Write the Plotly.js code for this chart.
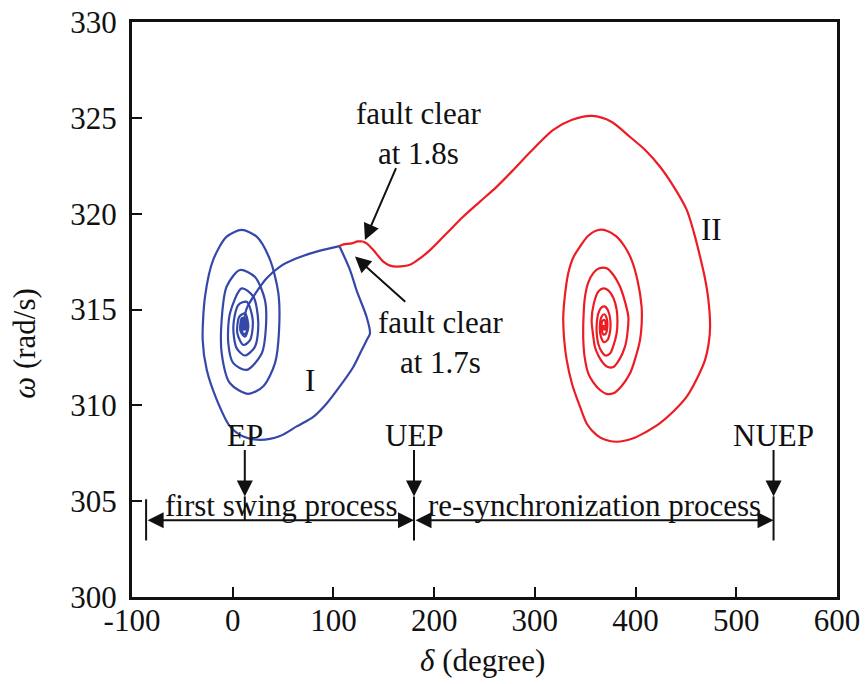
<!DOCTYPE html>
<html>
<head>
<meta charset="utf-8">
<script src="https://cdn.plot.ly/plotly-3.0.1.min.js"></script>
<style>
  html, body { margin: 0; padding: 0; background: #fff; }
  #chart { width: 865px; height: 684px; }
</style>
</head>
<body>
<div id="chart"></div>
<script>
// Rotor angle (degree) vs. speed (rad/s) phase-plane trajectories

// Fault-on trajectory from the pre-fault equilibrium to clearing at 1.7 s
const faultOnDelta = [10.5, 13.9, 23.8, 33.7, 47.0, 63.5, 86.7, 105.9];
const faultOnOmega = [314.2, 315.06, 315.93, 316.63, 317.24, 317.67, 318.07, 318.31];

// Case I: fault cleared at 1.7 s, first swing back to EP
const caseIDelta = [105.9, 116.5, 123.0, 133.0, 136.3, 133.0, 126.4, 119.7, 106.5, 93.3, 80.0, 63.5, 47.0, 27.1, 10.5,
  -2.7, -15.9, -25.8, -29.8, -27.5, -19.3, -6.0, 8.9, 23.8, 37.0, 45.3, 46.0, 42.0, 30.4, 15.5,
  -2.7, -10.9, -11.0, -6.0, 7.2, 22.1, 32.0, 33.0, 28.8, 13.9,
  0.6, -4.4, -2.7, 8.9, 20.5, 25.4, 22.1, 12.2,
  4.0, 0.6, 5.6, 13.9, 19.9, 17.2, 10.6,
  4.6, 6.6, 12.2, 15.5, 12.2, 7.9, 8.9, 12.2, 13.2, 9.9, 10.5, 11.5, 10.5,
  7.5, 9.0, 13.0, 14.0, 11.0, 8.0, 9.5, 12.5, 11.0, 9.5, 10.5];
const caseIOmega = [318.31, 317.06, 316.0, 314.6, 313.76, 313.4, 312.7, 312.0, 311.0, 310.1, 309.4, 308.9, 308.4, 308.2, 308.37,
  308.9, 310.3, 311.85, 313.4, 315.67, 317.6, 318.8, 319.15, 318.8, 317.6, 315.85, 313.9, 312.2, 311.0, 310.6,
  311.15, 312.7, 314.45, 316.2, 317.06, 316.7, 315.5, 314.1, 312.7, 311.85,
  312.2, 313.25, 314.8, 316.1, 315.67, 314.3, 313.06, 312.6,
  312.97, 314.1, 315.24, 315.4, 314.45, 313.4, 313.15,
  313.76, 314.63, 314.8, 314.1, 313.58, 313.85, 314.45, 314.45, 313.98, 314.0, 314.3, 314.15, 314.15,
  313.9, 314.55, 314.5, 313.85, 313.7, 314.1, 314.4, 314.3, 313.95, 314.0, 314.2];

// Continued fault-on path from 1.7 s to clearing at 1.8 s
const faultExtDelta = [105.9, 110.0, 118.0, 124.0, 129.0];
const faultExtOmega = [318.31, 318.4, 318.45, 318.55, 318.55];

// Case II: fault cleared at 1.8 s, pole slip and re-synchronization at NUEP side
const caseIIDelta = [129.0, 133.0, 139.6, 149.5, 156.2, 162.8, 176.0, 186.0, 195.9, 212.5, 229.0, 245.5, 262.0, 278.6, 295.2,
  318.3, 337.0, 356.8, 376.0, 394.5, 410.0, 424.3, 438.0, 450.8, 458.0, 464.0, 469.0, 472.3, 474.0, 472.5,
  469.0, 461.0, 450.8, 438.0, 424.3, 410.0, 397.8, 381.2, 370.0, 361.4, 352.0, 344.8, 337.0, 331.6, 329.0,
  328.2, 330.0, 333.2, 338.0, 344.8, 353.0, 363.0, 372.0, 381.2, 389.0, 396.1, 402.0, 406.0, 406.0, 404.4,
  400.0, 394.5, 386.0, 377.9, 371.0, 364.7, 358.0, 353.0, 349.5, 348.1, 348.3, 349.8, 353.0, 358.0, 364.0,
  371.3, 378.0, 384.5, 389.0, 392.8, 392.0, 389.5, 384.0, 377.9, 372.5, 367.9, 363.0, 359.6, 357.5, 356.4,
  358.5, 363.0, 368.0, 372.9, 378.0, 381.2, 382.0, 381.2, 378.5, 374.6, 370.0, 366.3, 363.0, 361.4, 361.5,
  363.0, 366.0, 369.7, 373.0, 375.0, 374.5, 372.0, 368.5, 365.5, 364.5, 366.0, 369.0, 371.5, 372.0, 370.5,
  368.0, 366.5, 367.0, 369.0, 370.3, 369.5, 368.0, 368.2];
const caseIIOmega = [318.55, 318.45, 318.1, 317.5, 317.29, 317.24, 317.33, 317.67, 318.1, 318.98, 319.85, 320.63, 321.4, 322.28, 323.2,
  324.37, 324.9, 325.1, 324.8, 324.0, 323.3, 322.45, 321.4, 320.2, 319.0, 317.76, 316.6, 315.5, 314.1, 313.2,
  312.37, 311.4, 310.45, 309.7, 309.07, 308.6, 308.28, 308.1, 308.2, 308.45, 309.0, 309.93, 311.1, 312.37, 313.5,
  314.63, 315.8, 316.9, 317.7, 318.28, 318.85, 319.15, 319.1, 318.8, 318.3, 317.58, 316.5, 315.15, 314.2, 313.4,
  312.5, 311.67, 311.0, 310.63, 310.6, 310.8, 311.2, 311.67, 312.5, 313.4, 314.6, 315.67, 316.4, 316.9, 317.15,
  317.15, 316.8, 316.2, 315.5, 314.63, 313.8, 313.06, 312.4, 312.0, 312.0, 312.2, 312.6, 313.06, 313.8, 314.45,
  315.3, 315.93, 316.1, 316.0, 315.6, 315.0, 314.4, 313.76, 313.2, 312.7, 312.6, 312.8, 313.2, 313.76, 314.3,
  314.8, 315.1, 315.15, 314.9, 314.4, 313.8, 313.4, 313.3, 313.6, 314.1, 314.6, 314.75, 314.5, 314.1, 313.75,
  313.7, 314.0, 314.4, 314.45, 314.2, 313.95, 314.0, 314.2];

// Equilibrium points on the delta axis and the process span markers
const pointNames = ['EP', 'UEP', 'NUEP'];
const pointDelta = [12, 180, 537];
const spanStart = -86;
const spanLabels = ['first swing process', 're-synchronization process'];

// Axis ticks
const xTicks = [-100, 0, 100, 200, 300, 400, 500, 600];
const xTickText = ['-100', '0', '100', '200', '300', '400', '500', '600'];
const yTicks = [300, 305, 310, 315, 320, 325, 330];

const BLUE = 'rgb(52,72,170)';
const RED = 'rgb(236,28,36)';
const INK = '#111';
const FONT = "'Liberation Serif', 'Times New Roman', Times, serif";
const FS = 31;

const traces = [
  { x: faultOnDelta, y: faultOnOmega, mode: 'lines', line: { color: BLUE, width: 2.2, shape: 'spline', smoothing: 0.8 } },
  { x: caseIDelta, y: caseIOmega, mode: 'lines', line: { color: BLUE, width: 2.2, shape: 'spline', smoothing: 0.8 } },
  { x: faultExtDelta, y: faultExtOmega, mode: 'lines', line: { color: RED, width: 2.2, shape: 'spline', smoothing: 0.8 } },
  { x: caseIIDelta, y: caseIIOmega, mode: 'lines', line: { color: RED, width: 2.2, shape: 'spline', smoothing: 0.8 } }
];

const labelOmega = 308.45;   // level of the EP/UEP/NUEP labels
const arrowTop = 307.75;
const arrowTip = 305.25;
const spanOmega = 304.0;
const barTop = 305.1;
const barBottom = 302.95;

const annotations = [];
const shapes = [];

function arrow(x, y, ax, ay, side) {
  annotations.push({
    x: x, y: y, ax: ax, ay: ay, xref: 'x', yref: 'y', axref: 'x', ayref: 'y',
    text: '', showarrow: true, arrowhead: 2, arrowsize: 1.6, arrowwidth: 2,
    arrowcolor: INK, arrowside: side || 'end', standoff: 0, startstandoff: 0
  });
}
function label(x, y, text, size) {
  annotations.push({
    x: x, y: y, xref: 'x', yref: 'y', text: text, showarrow: false,
    font: { family: FONT, size: size || FS, color: INK }
  });
}
function vline(x, y0, y1) {
  shapes.push({ type: 'line', xref: 'x', yref: 'y', x0: x, x1: x, y0: y0, y1: y1,
    line: { color: INK, width: 2 } });
}

// Fault-clearing callouts
label(184, 324.2, 'fault clear<br>at 1.8s');
arrow(131.3, 318.63, 162.8, 322.45);
label(206.8, 313.3, 'fault clear<br>at 1.7s');
arrow(121.4, 317.76, 172.8, 315.33);

// Trajectory labels
label(76.7, 311.3, 'I');
label(475.6, 319.15, 'II');

// Equilibrium points with downward arrows
pointNames.forEach((name, i) => {
  label(pointDelta[i], labelOmega, name);
  arrow(pointDelta[i], arrowTip, pointDelta[i], arrowTop);
});
vline(pointDelta[0], arrowTip, spanOmega);
vline(pointDelta[1], arrowTip, barBottom);
vline(pointDelta[2], arrowTip, barBottom);
vline(spanStart, barTop, barBottom);

// Process spans
arrow(pointDelta[1], spanOmega, spanStart, spanOmega, 'end+start');
arrow(pointDelta[2], spanOmega, pointDelta[1], spanOmega, 'end+start');
label((spanStart + pointDelta[1]) / 2 + 0.5, 304.8, spanLabels[0]);
label((pointDelta[1] + pointDelta[2]) / 2 + 1, 304.8, spanLabels[1]);

// Axis titles
annotations.push({
  xref: 'paper', yref: 'paper', x: 0.4965, y: -0.1096, xanchor: 'center', yanchor: 'middle',
  text: '<i>δ</i> (degree)', showarrow: false,
  font: { family: FONT, size: FS, color: INK }
});
annotations.push({
  xref: 'paper', yref: 'paper', x: -0.152, y: 0.442, xanchor: 'center', yanchor: 'middle',
  text: '<i>ω</i> (rad/s)', showarrow: false,
  textangle: -90, font: { family: FONT, size: FS, color: INK }
});

const axisCommon = {
  showgrid: false, zeroline: false, showline: true, mirror: true,
  linecolor: INK, linewidth: 3, ticks: 'inside', ticklen: 10, tickwidth: 2, tickcolor: INK,
  tickfont: { family: FONT, size: FS, color: INK }
};

const layout = {
  width: 865, height: 684,
  margin: { l: 132, r: 28, t: 22, b: 87 },
  paper_bgcolor: '#fff', plot_bgcolor: '#fff',
  showlegend: false,
  font: { family: FONT, size: FS, color: INK },
  xaxis: Object.assign({}, axisCommon, {
    range: [-100, 600], tickmode: 'array', tickvals: xTicks, ticktext: xTickText,
    ticklabelstandoff: -6
  }),
  yaxis: Object.assign({}, axisCommon, {
    range: [300, 330], tickmode: 'array', tickvals: yTicks,
    ticklabelstandoff: 6
  }),
  annotations: annotations,
  shapes: shapes
};

Plotly.newPlot('chart', traces, layout, { staticPlot: true, displayModeBar: false });
</script>
</body>
</html>
